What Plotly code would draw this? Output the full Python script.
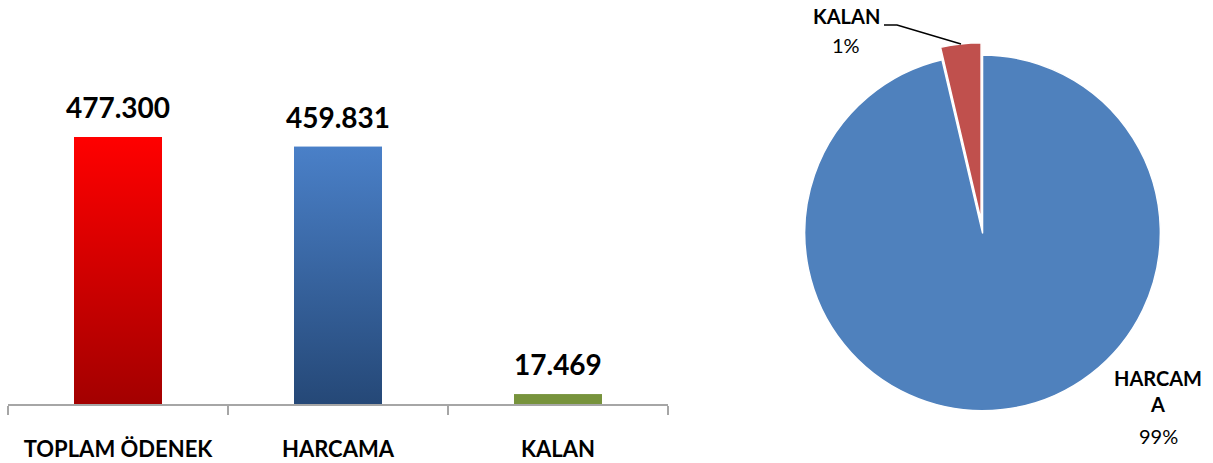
import plotly.graph_objects as go

# ---- data ----
categories = ["TOPLAM ÖDENEK", "HARCAMA", "KALAN"]
values = [477300, 459831, 17469]
bar_top_colors = ["#FF0000", "#4A80C8", "#77933C"]
bar_bottom_colors = ["#A30000", "#254877", "#77933C"]

pie_labels = ["HARCAMA", "KALAN"]
pie_values = [459831, 17469]
pie_display = ["HARCAM<br>A", "KALAN"]
pie_pct_text = ["99%", "1%"]
pie_colors = ["#4F81BD", "#C0504D"]

FONT = "Lato"
BAR_W = 0.4

fig = go.Figure()

xs = list(range(len(categories)))
fig.add_trace(go.Bar(
    x=xs, y=values, width=BAR_W,
    marker=dict(color=bar_top_colors, line=dict(width=0)),
    hoverinfo="skip", showlegend=False,
))

# gradient overlays built from the same values
for i, v in enumerate(values):
    fig.add_trace(go.Scatter(
        x=[i - BAR_W / 2, i + BAR_W / 2, i + BAR_W / 2, i - BAR_W / 2, i - BAR_W / 2],
        y=[0, 0, v, v, 0],
        mode="lines", line=dict(width=0), fill="toself",
        fillgradient=dict(type="vertical",
                          colorscale=[[0, bar_bottom_colors[i]], [1, bar_top_colors[i]]]),
        hoverinfo="skip", showlegend=False,
    ))

annotations = []
for i, v in enumerate(values):
    annotations.append(dict(
        x=i, y=v, xref="x", yref="y", text="<b>" + f"{v:,}".replace(",", ".") + "</b>",
        showarrow=False, xanchor="center", yanchor="middle", yshift=30,
        font=dict(family=FONT, size=28, color="#000000"),
    ))

fig.add_trace(go.Pie(
    labels=pie_labels, values=pie_values, sort=False, direction="clockwise",
    rotation=0, pull=[0, 0.07], textinfo="none",
    marker=dict(colors=pie_colors, line=dict(color="#FFFFFF", width=1.5)),
    domain=dict(x=[0.653, 0.967], y=[0.086, 0.908]),
    showlegend=False, hoverinfo="skip",
))

W, H = 1213, 463
# pie labels
label_pos = {
    "KALAN": dict(name=(846, 16), pct=(846, 45)),
    "HARCAMA": dict(name=(1158, 391), pct=(1158, 436)),
}
for lab, disp, pct in zip(pie_labels, pie_display, pie_pct_text):
    p = label_pos[lab]
    annotations.append(dict(x=p["name"][0] / W, y=1 - p["name"][1] / H, xref="paper", yref="paper",
                            text="<b>" + disp + "</b>", showarrow=False,
                            xanchor="center", yanchor="middle",
                            font=dict(family=FONT, size=20, color="#000000")))
    annotations.append(dict(x=p["pct"][0] / W, y=1 - p["pct"][1] / H, xref="paper", yref="paper",
                            text=pct, showarrow=False,
                            xanchor="center", yanchor="middle",
                            font=dict(family=FONT, size=20, color="#000000")))

shapes = [dict(type="path", xref="paper", yref="paper",
               path=f"M {884/W} {1-25/H} L {897/W} {1-25/H} L {961/W} {1-44/H}",
               line=dict(color="#000000", width=1.5))]

fig.update_layout(
    width=W, height=H,
    margin=dict(l=0, r=0, t=0, b=0),
    paper_bgcolor="#FFFFFF", plot_bgcolor="#FFFFFF",
    separators=",.",
    xaxis=dict(
        domain=[8 / W, 668 / W], range=[-0.5, 2.5],
        tickvals=xs, ticktext=["<b>" + c + "</b>" for c in categories],
        ticks="", showgrid=False, zeroline=False,
        showline=True, linecolor="#A6A6A6", linewidth=2,
        tickfont=dict(family=FONT, size=22, color="#000000"),
        ticklabelstandoff=25,
        minor=dict(tickvals=[-0.5, 0.5, 1.5, 2.5], ticks="outside", ticklen=9,
                   tickcolor="#A6A6A6", tickwidth=2, showgrid=False),
        fixedrange=True,
    ),
    yaxis=dict(
        domain=[(H - 404) / H, 1], range=[0, 477300 * (404) / 267],
        visible=False, showgrid=False, zeroline=False, fixedrange=True,
    ),
    annotations=annotations,
    shapes=shapes,
)

fig.write_html("out.html", config={"displayModeBar": False},
               post_script="document.body.style.margin='0';document.body.style.padding='0';")
